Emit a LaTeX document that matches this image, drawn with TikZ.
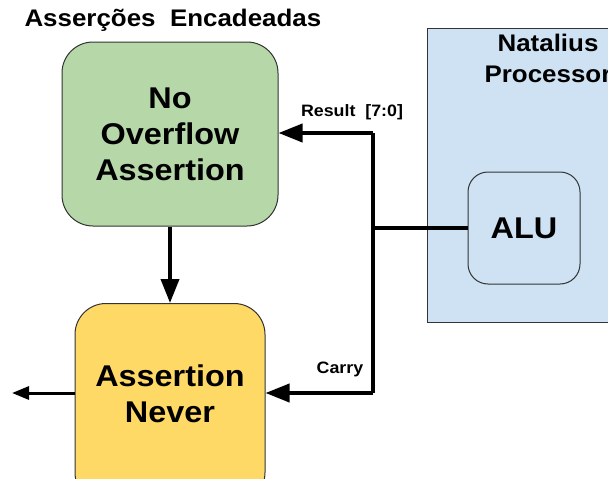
\documentclass[tikz,border=0pt]{standalone}
\usepackage{fontspec}
\setmainfont[FakeStretch=1.08]{Liberation Sans}
\usetikzlibrary{arrows.meta}
\definecolor{greenfill}{HTML}{B6D7A8}
\definecolor{yellowfill}{HTML}{FFD966}
\definecolor{bluefill}{HTML}{CFE2F3}
\definecolor{edgegray}{HTML}{333333}
\tikzset{
  block/.style={draw=edgegray, line width=1pt, rounded corners=31pt, align=center,
    font=\bfseries\fontsize{30}{36}\selectfont, inner sep=0pt},
  wire/.style={line width=3.8pt},
  bigtip/.style={-{Triangle[length=24pt,width=18pt]}},
  smalltip/.style={-{Triangle[length=17pt,width=13pt]}},
  lbl/.style={font=\bfseries\fontsize{16.5}{19}\selectfont, inner sep=0pt}
}
\begin{document}
\begin{tikzpicture}[x=1pt,y=-1pt]
  \useasboundingbox (0,0) rectangle (608,479);
  % processor frame (extends past the right edge)
  \begin{scope}
    \clip (0,0) rectangle (608,479);
    \node[draw=edgegray, line width=0.8pt, fill=bluefill, minimum width=200pt,
      minimum height=294pt, anchor=north west] (proc) at (427,28) {};
  \end{scope}
  \node[font=\bfseries\fontsize{24}{31}\selectfont, align=center, anchor=north] (proctitle)
    at (548,31) {Natalius\\Processor};
  \node[block, fill=bluefill, rounded corners=20pt, minimum width=112pt, minimum height=112pt]
    (alu) at (524,228) {ALU};

  % assertion blocks
  \node[block, fill=greenfill, minimum width=216pt, minimum height=184pt]
    (noov) at (170,134) {No\\Overflow\\Assertion};
  \begin{scope}
    \clip (0,0) rectangle (608,479);
    \node[block, fill=yellowfill, minimum width=190pt, minimum height=200pt, anchor=north]
      (never) at (170,303) {};
  \end{scope}
  \node[font=\bfseries\fontsize{30}{36}\selectfont, align=center] (nevertext) at (170,394)
    {Assertion\\Never};

  \node[font=\bfseries\fontsize{24}{28}\selectfont, anchor=west] (title) at (21,20)
    {Asserções~~Encadeadas};

  % connectors
  \coordinate (split) at (373,228);
  \coordinate (up) at (373,133);
  \coordinate (down) at (373,393);
  \coordinate (out) at (12,393);
  \draw[wire] (alu.west) -- (split);
  \draw[wire] (up) -- (down);
  \draw[wire, bigtip] (up) -- (noov.east |- up);
  \draw[wire, bigtip] (down) -- (never.east |- down);
  \draw[wire, bigtip] (noov.south) -- (never.north);
  \draw[line width=3pt, smalltip] (never.west |- down) -- (out);

  \node[lbl, anchor=base] (reslbl) at (352,116) {Result~~[7:0]};
  \node[lbl, anchor=base] (carrylbl) at (340,373) {Carry};
\end{tikzpicture}
\end{document}
